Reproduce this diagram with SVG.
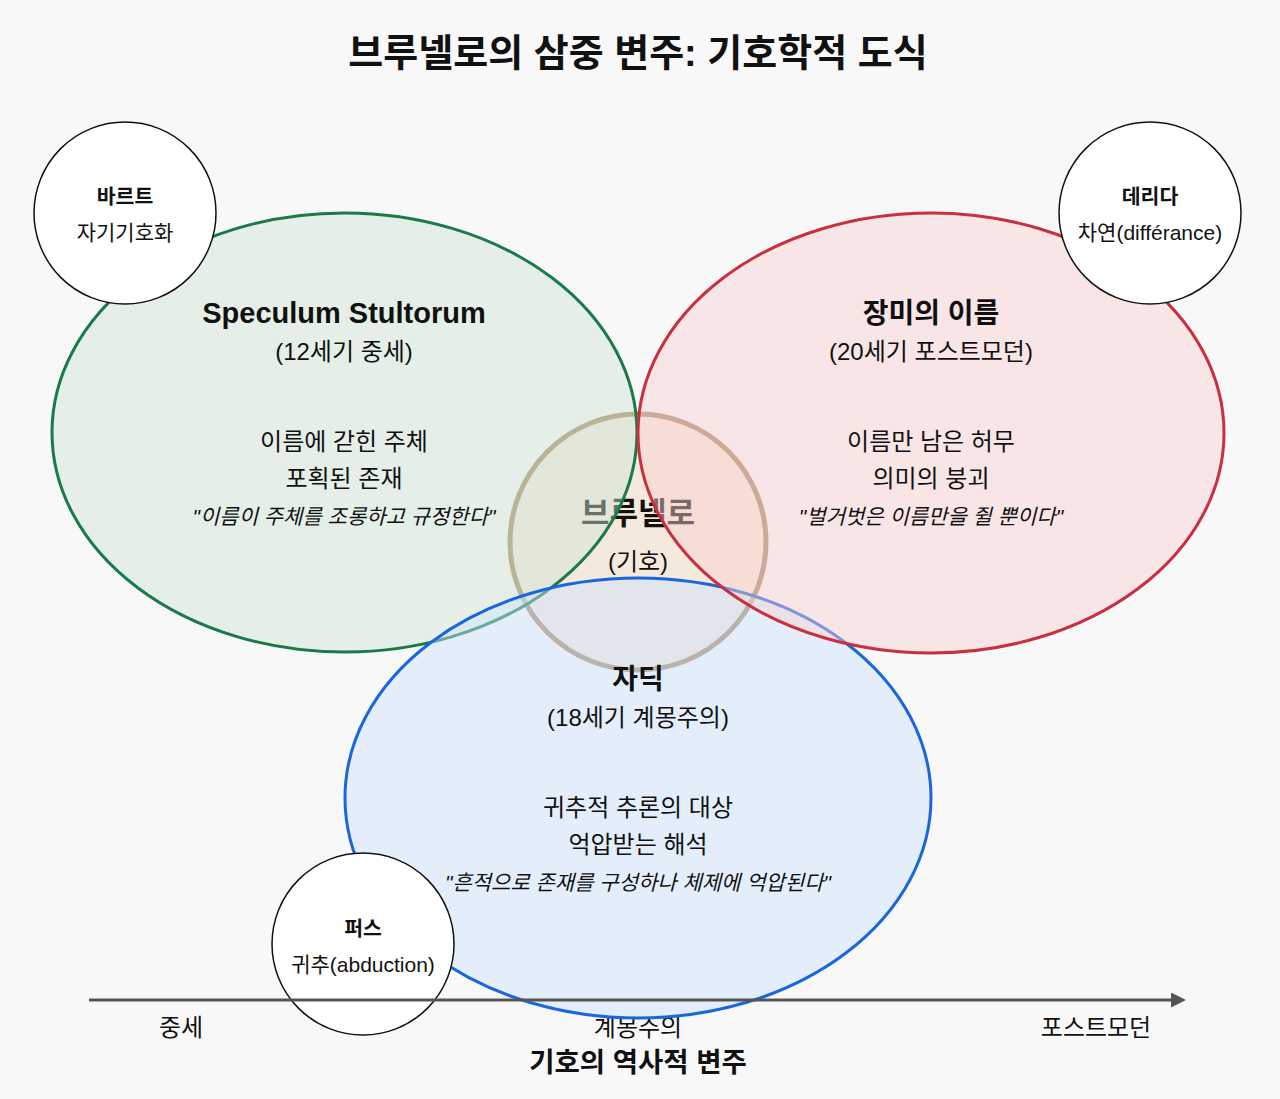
<svg xmlns="http://www.w3.org/2000/svg" width="1280" height="1099" viewBox="0 0 1280 1099">
<defs>
<style>
text{font-family:"Liberation Sans","Noto Sans CJK KR",sans-serif;text-anchor:middle;fill:#111}
.title{font-size:38px;font-weight:bold}
.h{font-size:28px;font-weight:bold}
.sub{font-size:24px}
.q{font-size:21px;font-style:italic}
.sn{font-size:20.5px;font-weight:bold}
.st{font-size:21px}
.ax{font-size:24px}
.axt{font-size:27.5px;font-weight:bold}
.ell{stroke-width:3;fill-opacity:0.46}
.small{fill:#fff;stroke:#111;stroke-width:1.5}
</style>
<marker id="arr" viewBox="0 0 10 10" refX="0" refY="5" markerWidth="5.5" markerHeight="5" orient="auto" markerUnits="strokeWidth">
<path d="M0,0 L10,5 L0,10 Z" fill="#555"/>
</marker>
</defs>
<rect width="1280" height="1099" fill="#f8f8f8"/>
<text class="title" x="638" y="66">브루넬로의 삼중 변주: 기호학적 도식</text>

<g id="axis-labels">
<text class="ax" x="181" y="1036">중세</text>
<text class="ax" x="638" y="1036">계몽주의</text>
<text class="ax" x="1096" y="1036">포스트모던</text>
<text class="axt" x="638" y="1072">기호의 역사적 변주</text>
</g>

<g id="brunello">
<circle cx="638" cy="542" r="128" fill="#f4e9dc" stroke="#a88a68" stroke-width="5"/>
<text x="638" y="524" style="font-size:31px;font-weight:bold">브루넬로</text>
<text class="sub" x="638" y="570">(기호)</text>
</g>

<g id="speculum">
<ellipse class="ell" cx="344.5" cy="432.5" rx="292.5" ry="219.5" fill="rgb(206,228,213)" stroke="#1a7a4a"/>
</g>
<g id="zadig">
<ellipse class="ell" cx="638" cy="798" rx="293" ry="220" fill="rgb(204,226,254)" stroke="#1a66dd"/>
</g>
<g id="rose">
<ellipse class="ell" cx="931" cy="433" rx="293" ry="220" fill="rgb(248,207,207)" stroke="#c8303f"/>
</g>

<g id="speculum-text">
<text class="h" x="344" y="323" style="font-size:29px">Speculum Stultorum</text>
<text class="sub" x="344" y="360">(12세기 중세)</text>
<text class="sub" x="344" y="450">이름에 갇힌 주체</text>
<text class="sub" x="344" y="487">포획된 존재</text>
<text class="q" x="344" y="524">"이름이 주체를 조롱하고 규정한다"</text>
</g>
<g id="rose-text">
<text class="h" x="931" y="323">장미의 이름</text>
<text class="sub" x="931" y="360">(20세기 포스트모던)</text>
<text class="sub" x="931" y="450">이름만 남은 허무</text>
<text class="sub" x="931" y="487">의미의 붕괴</text>
<text class="q" x="931" y="524">"벌거벗은 이름만을 쥘 뿐이다"</text>
</g>
<g id="zadig-text">
<text class="h" x="638" y="689">자딕</text>
<text class="sub" x="638" y="726">(18세기 계몽주의)</text>
<text class="sub" x="638" y="816">귀추적 추론의 대상</text>
<text class="sub" x="638" y="853">억압받는 해석</text>
<text class="q" x="638" y="890">"흔적으로 존재를 구성하나 체제에 억압된다"</text>
</g>

<g id="barthes">
<circle class="small" cx="125" cy="213" r="91"/>
<text class="sn" x="125" y="204">바르트</text>
<text class="st" x="125" y="240">자기기호화</text>
</g>
<g id="derrida">
<circle class="small" cx="1150" cy="213" r="91"/>
<text class="sn" x="1150" y="204">데리다</text>
<text class="st" x="1150" y="240">차연(différance)</text>
</g>
<g id="peirce">
<circle class="small" cx="363" cy="944" r="91"/>
<text class="sn" x="363" y="936">퍼스</text>
<text class="st" x="363" y="972">귀추(abduction)</text>
</g>

<g id="connectors">
<line x1="89" y1="1000" x2="1171" y2="1000" stroke="#555" stroke-width="3" marker-end="url(#arr)"/>
</g>
</svg>
